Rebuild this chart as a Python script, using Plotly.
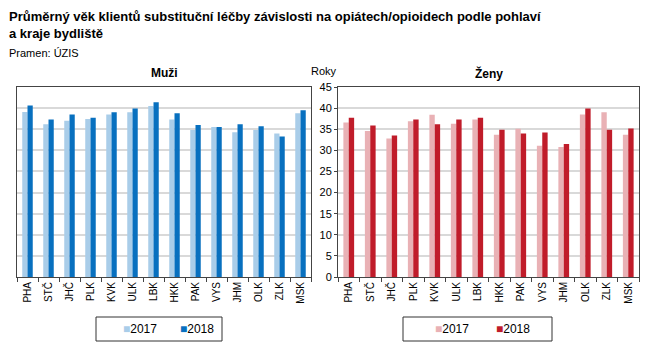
import plotly.graph_objects as go

kraje = ["PHA", "STČ", "JHČ", "PLK", "KVK", "ULK", "LBK", "HKK", "PAK", "VYS", "JHM", "OLK", "ZLK", "MSK"]
muzi_2017 = [39.1, 36.2, 37.0, 37.4, 38.5, 39.0, 40.5, 37.3, 34.8, 35.5, 34.3, 34.8, 34.0, 38.8]
muzi_2018 = [40.6, 37.3, 38.5, 37.7, 39.0, 39.9, 41.4, 38.8, 36.0, 35.5, 36.2, 35.7, 33.3, 39.5]
zeny_2017 = [36.6, 34.6, 32.8, 36.9, 38.4, 36.3, 37.3, 33.7, 35.1, 31.1, 30.8, 38.5, 39.0, 33.7]
zeny_2018 = [37.7, 35.9, 33.5, 37.3, 36.2, 37.3, 37.7, 34.9, 34.0, 34.2, 31.5, 39.9, 34.9, 35.2]
roky = ["2017", "2018"]

FONT = "Liberation Sans, Arial, sans-serif"
c_m = ["#a9cde9", "#0870bf"]
c_z = ["#e9b1b5", "#c01c2a"]

fig = go.Figure()
for name, vals, col in zip(roky, [muzi_2017, muzi_2018], c_m):
    fig.add_trace(go.Bar(x=kraje, y=vals, name=name, marker_color=col, marker_line_width=0,
                         xaxis="x", yaxis="y", showlegend=False))
for name, vals, col in zip(roky, [zeny_2017, zeny_2018], c_z):
    fig.add_trace(go.Bar(x=kraje, y=vals, name=name, marker_color=col, marker_line_width=0,
                         xaxis="x2", yaxis="y2", showlegend=False))

# pixel -> paper helpers (plot area: x 17..639, y 87..277)
def px(x):
    return (x - 17) / 622

def py(y):
    return (277 - y) / 190

d1 = px(311)
d2 = px(338)

xcommon = dict(type="category", showline=True, linecolor="#444444", linewidth=1, mirror=True,
               ticks="outside", tickson="boundaries", ticklen=4, tickcolor="#444444",
               tickangle=-90, tickfont=dict(family=FONT, size=10, color="black"), showgrid=False)
ycommon = dict(range=[0, 45], dtick=5, showline=True, linecolor="#444444", linewidth=1, mirror=True,
               showgrid=True, gridcolor="#d9d9d9", gridwidth=2, zeroline=False,
               tickfont=dict(family=FONT, size=11, color="black"))

fig.update_layout(
    width=652, height=354,
    margin=dict(l=17, r=13, t=87, b=77),
    paper_bgcolor="white", plot_bgcolor="white",
    barmode="group", bargap=0.5, bargroupgap=0,
    font=dict(family=FONT, size=11, color="black"),
    xaxis=dict(domain=[0, d1], anchor="y", **xcommon),
    xaxis2=dict(domain=[d2, 1], anchor="y2", **xcommon),
    yaxis=dict(anchor="x", showticklabels=False, ticks="", **ycommon),
    yaxis2=dict(anchor="x2", showticklabels=True, ticks="outside", ticklen=3, tickcolor="#444444", **ycommon),
    showlegend=False,
)

fig.add_annotation(text="<b>Průměrný věk klientů substituční léčby závislosti na opiátech/opioidech podle pohlaví<br>a kraje bydliště</b>",
                   xref="paper", yref="paper", x=px(7), y=py(7),
                   xanchor="left", yanchor="top", showarrow=False, align="left",
                   font=dict(family=FONT, size=13, color="black"))
fig.add_annotation(text="Pramen: ÚZIS", xref="paper", yref="paper", x=px(7), y=py(45),
                   xanchor="left", yanchor="top", showarrow=False, align="left",
                   font=dict(family=FONT, size=11, color="black"))
fig.add_annotation(text="<b>Muži</b>", xref="paper", yref="paper", x=d1 / 2, y=py(73),
                   xanchor="center", yanchor="middle", showarrow=False, font=dict(family=FONT, size=12))
fig.add_annotation(text="<b>Ženy</b>", xref="paper", yref="paper", x=(d2 + 1) / 2, y=py(73),
                   xanchor="center", yanchor="middle", showarrow=False, font=dict(family=FONT, size=12))
fig.add_annotation(text="Roky", xref="paper", yref="paper", x=px(324), y=py(71),
                   xanchor="center", yanchor="middle", showarrow=False, font=dict(family=FONT, size=11))

# legends (boxes with coloured squares)
legend_boxes = [(96, 222, c_m, [121, 178]), (403, 552, c_z, [433, 494])]
for x0, x1, cols, starts in legend_boxes:
    fig.add_shape(type="rect", xref="paper", yref="paper", x0=px(x0), x1=px(x1), y0=py(317), y1=py(341),
                  line=dict(color="#333333", width=1), fillcolor="white")
    for name, col, xs in zip(roky, cols, starts):
        fig.add_annotation(text=f"<span style='color:{col}'>■</span>{name}", xref="paper", yref="paper",
                           x=px(xs), y=py(329), xanchor="left", yanchor="middle", showarrow=False,
                           font=dict(family=FONT, size=12, color="black"))

fig.write_html("out.html")
